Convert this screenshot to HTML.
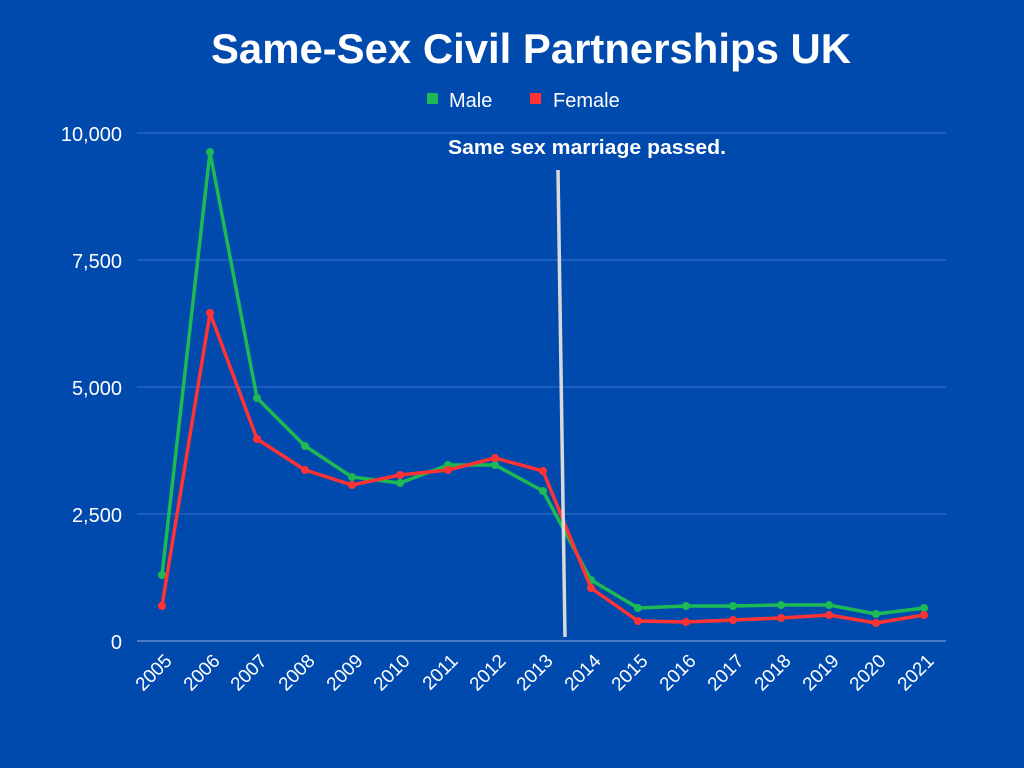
<!DOCTYPE html>
<html><head><meta charset="utf-8"><style>
body{margin:0;background:#0049ad;}
svg{display:block;font-family:"Liberation Sans",sans-serif;}
</style></head><body>
<svg width="1024" height="768" viewBox="0 0 1024 768">
<rect width="1024" height="768" fill="#0049ad"/>
<text x="531" y="63" text-anchor="middle" fill="#fff" font-size="42" font-weight="bold" textLength="640" lengthAdjust="spacingAndGlyphs">Same-Sex Civil Partnerships UK</text>
<rect x="427" y="93" width="11" height="11" fill="#1db954"/>
<text x="449" y="107" fill="#fff" font-size="20">Male</text>
<rect x="530" y="93" width="11" height="11" fill="#ff3333"/>
<text x="553" y="107" fill="#fff" font-size="20">Female</text>
<g stroke="#3d74c9" stroke-width="1">
<line x1="137" y1="133" x2="946" y2="133"/>
<line x1="137" y1="260" x2="946" y2="260"/>
<line x1="137" y1="387" x2="946" y2="387"/>
<line x1="137" y1="514" x2="946" y2="514"/>
</g>
<line x1="137" y1="641" x2="946" y2="641" stroke="#8fb0e0" stroke-width="1"/>
<g fill="#fff" font-size="20" text-anchor="end">
<text x="122" y="141">10,000</text>
<text x="122" y="268">7,500</text>
<text x="122" y="395">5,000</text>
<text x="122" y="522">2,500</text>
<text x="122" y="649">0</text>
</g>
<g fill="#fff" font-size="19" text-anchor="end">
<text transform="translate(173,662) rotate(-45)">2005</text>
<text transform="translate(221,662) rotate(-45)">2006</text>
<text transform="translate(268,662) rotate(-45)">2007</text>
<text transform="translate(316,662) rotate(-45)">2008</text>
<text transform="translate(364,662) rotate(-45)">2009</text>
<text transform="translate(411,662) rotate(-45)">2010</text>
<text transform="translate(459,662) rotate(-45)">2011</text>
<text transform="translate(507,662) rotate(-45)">2012</text>
<text transform="translate(554,662) rotate(-45)">2013</text>
<text transform="translate(602,662) rotate(-45)">2014</text>
<text transform="translate(649,662) rotate(-45)">2015</text>
<text transform="translate(697,662) rotate(-45)">2016</text>
<text transform="translate(745,662) rotate(-45)">2017</text>
<text transform="translate(792,662) rotate(-45)">2018</text>
<text transform="translate(840,662) rotate(-45)">2019</text>
<text transform="translate(887,662) rotate(-45)">2020</text>
<text transform="translate(935,662) rotate(-45)">2021</text>
</g>
<polyline fill="none" stroke="#1db954" stroke-width="3.5" stroke-linejoin="round" points="162,575 210,152 257,398 305,446 352,477 400,483 448,465 495,465 543,491 591,580 638,608 686,606 733,606 781,605 829,605 876,614 924,608"/>
<g fill="#1db954">
<circle cx="162" cy="575" r="4"/><circle cx="210" cy="152" r="4"/><circle cx="257" cy="398" r="4"/><circle cx="305" cy="446" r="4"/><circle cx="352" cy="477" r="4"/><circle cx="400" cy="483" r="4"/><circle cx="448" cy="465" r="4"/><circle cx="495" cy="465" r="4"/><circle cx="543" cy="491" r="4"/><circle cx="591" cy="580" r="4"/><circle cx="638" cy="608" r="4"/><circle cx="686" cy="606" r="4"/><circle cx="733" cy="606" r="4"/><circle cx="781" cy="605" r="4"/><circle cx="829" cy="605" r="4"/><circle cx="876" cy="614" r="4"/><circle cx="924" cy="608" r="4"/>
</g>
<polyline fill="none" stroke="#ff3333" stroke-width="3.5" stroke-linejoin="round" points="162,606 210,313 257,439 305,470 352,485 400,475 448,470 495,458 543,471 591,588 638,621 686,622 733,620 781,618 829,615 876,623 924,615"/>
<g fill="#ff3333">
<circle cx="162" cy="606" r="4"/><circle cx="210" cy="313" r="4"/><circle cx="257" cy="439" r="4"/><circle cx="305" cy="470" r="4"/><circle cx="352" cy="485" r="4"/><circle cx="400" cy="475" r="4"/><circle cx="448" cy="470" r="4"/><circle cx="495" cy="458" r="4"/><circle cx="543" cy="471" r="4"/><circle cx="591" cy="588" r="4"/><circle cx="638" cy="621" r="4"/><circle cx="686" cy="622" r="4"/><circle cx="733" cy="620" r="4"/><circle cx="781" cy="618" r="4"/><circle cx="829" cy="615" r="4"/><circle cx="876" cy="623" r="4"/><circle cx="924" cy="615" r="4"/>
</g>
<line x1="558" y1="170" x2="565" y2="637" stroke="#d9d9d9" stroke-width="3.5"/>
<text x="587" y="154" text-anchor="middle" fill="#fff" font-size="20" font-weight="bold" textLength="278" lengthAdjust="spacingAndGlyphs">Same sex marriage passed.</text>
</svg>
</body></html>
